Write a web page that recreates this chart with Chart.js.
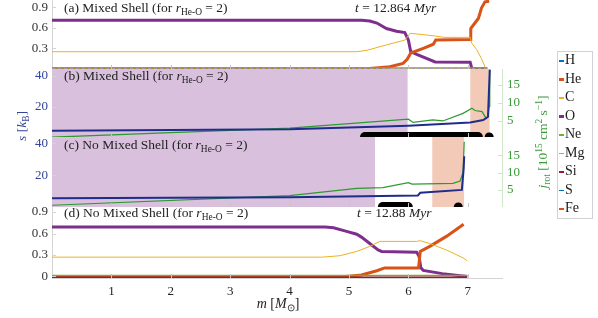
<!DOCTYPE html>
<html>
<head>
<meta charset="utf-8">
<script src="https://cdn.jsdelivr.net/npm/chart.js@4"></script>
<style>
  body { margin: 0; background: #fff; }
  #wrap { position: relative; width: 598px; height: 318px; overflow: hidden; font-family: "Liberation Serif", serif; color: #222; }
  canvas { position: absolute; left: 0; }
  .lab { position: absolute; white-space: nowrap; font-size: 13.5px; line-height: 14px; transform: translateY(-50%); }
  .rot { position: absolute; white-space: nowrap; line-height: 14px; transform: translate(-50%, -50%) rotate(-90deg); }
  sub { font-size: 70%; vertical-align: -0.3em; line-height: 0; }
  sup { font-size: 70%; vertical-align: 0.5em; line-height: 0; }
  #legend { position: absolute; left: 557px; top: 51px; width: 34px; height: 166px; border: 1px solid #d2d2d2; background: #fff; }
  #legend div { position: absolute; left: 1px; font-size: 14px; line-height: 14px; transform: translateY(-50%); white-space: nowrap; }
  #legend span { display: inline-block; width: 5px; vertical-align: middle; margin-right: 1px; }
</style>
</head>
<body>
<div id="wrap">
  <canvas id="ca" width="598" height="69" style="top:0px"></canvas>
  <canvas id="cb" width="598" height="68" style="top:69px"></canvas>
  <canvas id="cc" width="598" height="70" style="top:137px"></canvas>
  <canvas id="cd" width="598" height="118" style="top:200px"></canvas>

  <div class="lab" style="left:64px;top:7.5px">(a) Mixed Shell (for <i>r</i><sub>He-O</sub> = 2)</div>
  <div class="lab" style="left:355px;top:7.5px"><i>t</i> = 12.864 <i>Myr</i></div>
  <div class="lab" style="left:64px;top:76px">(b) Mixed Shell (for <i>r</i><sub>He-O</sub> = 2)</div>
  <div class="lab" style="left:64px;top:145px">(c) No Mixed Shell (for <i>r</i><sub>He-O</sub> = 2)</div>
  <div class="lab" style="left:64px;top:213px">(d) No Mixed Shell (for <i>r</i><sub>He-O</sub> = 2)</div>
  <div class="lab" style="left:357px;top:213px"><i>t</i> = 12.88 <i>Myr</i></div>

  <div class="rot" style="left:22px;top:126px;font-size:13.5px;color:#34449a"><i>s</i> [<i>k</i><sub>B</sub>]</div>
  <div class="rot" style="left:543px;top:142px;font-size:13.5px;color:#3a9a3a"><i>j</i><sub>rot</sub> [10<sup>15</sup> cm<sup>2</sup> s<sup>−1</sup>]</div>
  <div class="lab" style="left:278px;top:304px;font-size:14px;transform:translate(-50%,-50%)"><i>m</i> [<i>M</i><sub>⊙</sub>]</div>

  <div id="legend"></div>
</div>

<script>
// legend entries
const species = ['H', 'He', 'C', 'O', 'Ne', 'Mg', 'Si', 'S', 'Fe'];
const speciesColor = ['#0072BD', '#D95319', '#EDB120', '#7E2F8E', '#77AC30', '#4DBEEE', '#A2142F', '#0072BD', '#D95319'];

// (a) mixed shell, mass fractions at t = 12.864 Myr
const mA_O  = [0, 5.21, 5.35, 5.47, 5.63, 5.80, 5.94, 6.00, 6.04, 6.14, 6.45, 7.04, 7.07, 7.33];
const xA_O  = [0.71, 0.71, 0.70, 0.67, 0.59, 0.55, 0.53, 0.42, 0.25, 0.21, 0.10, 0.095, 0.0, 0.0];
const mA_He = [0, 5.0, 5.35, 5.69, 5.91, 5.98, 6.04, 6.25, 6.42, 6.46, 7.04, 7.05, 7.12, 7.18, 7.23, 7.29, 7.36];
const xA_He = [0, 0, 0.005, 0.03, 0.08, 0.14, 0.23, 0.30, 0.36, 0.42, 0.43, 0.59, 0.67, 0.74, 0.89, 0.98, 0.99];
const mA_C  = [0, 5.13, 5.30, 5.63, 5.94, 6.03, 6.25, 6.45, 6.60, 7.04, 7.07, 7.15, 7.23, 7.29, 7.32];
const xA_C  = [0.25, 0.25, 0.27, 0.35, 0.42, 0.52, 0.50, 0.48, 0.46, 0.46, 0.37, 0.28, 0.15, 0.03, 0];
const mA_minor = [0, 7.32];
const xA_Ne = [0.012, 0.012];
const xA_Mg = [0.005, 0.005];
const xA_Si = [0.002, 0.002];

// (b) mixed shell, entropy and specific angular momentum
const mB_s = [0, 4.0, 6.0, 7.04, 7.26, 7.34, 7.37];
const sB   = [4.7, 5.6, 7.9, 9.9, 11.6, 13.7, 44];
const mB_j = [0, 4.0, 6.0, 6.08, 6.41, 6.58, 6.92, 7.07, 7.12, 7.24, 7.31, 7.34, 7.36, 7.37];
const jB   = [0.5, 3.0, 5.5, 4.6, 5.3, 5.0, 7.1, 8.5, 7.9, 7.6, 5.7, 6.2, 9.0, 19.2];
const shellB_O  = [0, 5.99];
const shellB_He = [7.04, 7.37];
const convB = [5.27, 7.17];
const convB_dot = 7.36;

// (c) no mixed shell
const mC_s = [0, 4.0, 6.16, 6.20, 6.90, 6.93, 6.94];
const sC   = [5.8, 6.4, 7.5, 9.2, 11.0, 24, 32];
const mC_j = [0, 4.0, 5.13, 5.57, 6.0, 6.06, 6.75, 6.87, 6.92, 6.94];
const jC   = [0.6, 3.4, 5.5, 5.7, 7.1, 6.7, 6.9, 7.6, 10.1, 18.9];
const shellC_O  = [0, 5.44];
const shellC_He = [6.40, 6.94];
const convC = [5.57, 5.99];
const convC_dot = 6.84;

// (d) no mixed shell, mass fractions at t = 12.88 Myr
const mD_O  = [0, 4.60, 4.74, 4.96, 5.13, 5.21, 5.35, 5.49, 5.55, 6.14, 6.18, 6.21, 6.25, 6.57, 6.99];
const xD_O  = [0.69, 0.69, 0.68, 0.63, 0.59, 0.55, 0.46, 0.37, 0.35, 0.34, 0.28, 0.12, 0.085, 0.04, 0.0];
const mD_He = [0, 4.80, 5.0, 5.21, 5.47, 5.60, 6.17, 6.18, 6.20, 6.36, 6.64, 6.93];
const xD_He = [-0.008, -0.008, 0.005, 0.02, 0.08, 0.12, 0.12, 0.19, 0.35, 0.42, 0.56, 0.73];
const mD_C  = [0, 4.55, 4.85, 5.13, 5.35, 5.52, 6.14, 6.20, 6.36, 6.64, 6.92, 6.99];
const xD_C  = [0.27, 0.27, 0.29, 0.35, 0.42, 0.49, 0.49, 0.50, 0.46, 0.37, 0.26, 0.22];
const mD_minor = [0, 6.99];
const xD_Ne = [0.015, 0.015];
const xD_Si = [-0.011, -0.011];

const mMax = 7.576;

Chart.defaults.font.family = '"Liberation Serif", serif';
Chart.defaults.font.size = 13;
Chart.defaults.color = '#333';

// little tick marks drawn inside the plot frame
const innerTicks = {
  id: 'innerTicks',
  afterDatasetsDraw(chart) {
    const ctx = chart.ctx, a = chart.chartArea;
    ctx.save();
    ctx.lineWidth = 1;
    Object.values(chart.scales).forEach(s => {
      const col = s.options.innerTick;
      if (!col) return;
      ctx.strokeStyle = col;
      ctx.beginPath();
      s.ticks.forEach(t => {
        if (s.isHorizontal()) {
          if (t.value === 0) return;
          const x = Math.round(s.getPixelForValue(t.value)) + 0.5;
          ctx.moveTo(x, a.bottom); ctx.lineTo(x, a.bottom - 4);
        } else {
          const y = Math.round(s.getPixelForValue(t.value)) + 0.5;
          if (s.position === 'right') { ctx.moveTo(a.right, y); ctx.lineTo(a.right - 4, y); }
          else { ctx.moveTo(a.left, y); ctx.lineTo(a.left + 4, y); }
        }
      });
      ctx.stroke();
    });
    ctx.restore();
  }
};

let pts = (ms, vs) => ms.map((m, i) => ({ x: m, y: vs[i] }));

let line = (ms, vs, color, width, extra) => Object.assign({
  data: pts(ms, vs), borderColor: color, borderWidth: width,
  pointRadius: 0, fill: false, tension: 0, order: 1
}, extra || {});

let band = (range, top, color, axis) => ({
  data: [{ x: range[0], y: top }, { x: range[1], y: top }], yAxisID: axis,
  borderWidth: 0, borderColor: 'rgba(0,0,0,0)', backgroundColor: color,
  fill: 'start', pointRadius: 0, order: 10
});

let conv = (range, y) => ({
  data: [{ x: range[0], y: y }, { x: range[1], y: y }], yAxisID: 'y',
  borderColor: '#000', borderWidth: 10, borderCapStyle: 'round', pointRadius: 0, order: 0
});

let dot = (m, y) => ({
  data: [{ x: m, y: y }], yAxisID: 'y', showLine: false,
  pointRadius: 4.5, pointBackgroundColor: '#000', pointBorderWidth: 0, order: 0
});

let xScale = (show) => ({
  type: 'linear', min: 0, max: mMax, display: show,
  ticks: { stepSize: 1, includeBounds: false, autoSkip: false, padding: 6, color: '#222', callback: v => v === 0 ? '' : v },
  grid: { display: false, drawTicks: false },
  border: { display: show, color: '#d4d4d4' },
  innerTick: '#c4c4c4',
  afterFit(s) { if (show) s.height = 40; s.paddingLeft = 0; s.paddingRight = 0; }
});

// lo/hi: range of tick values that get a label
let yScale = (pos, min, max, step, lo, hi, color, border) => ({
  type: 'linear', position: pos, min: min, max: max,
  ticks: { stepSize: step, includeBounds: false, autoSkip: false, padding: pos === 'right' ? 5 : 4, color: color },
  grid: { display: false, drawTicks: false },
  border: { color: border },
  innerTick: border,
  afterBuildTicks(s) { s.ticks = s.ticks.filter(t => t.value >= lo - 1e-9 && t.value <= hi + 1e-9); },
  afterFit(s) { s.width = pos === 'right' ? 96 : 52; s.paddingTop = 0; s.paddingBottom = 0; }
});

let panel = (id, datasets, scales, padding) => new Chart(document.getElementById(id), {
  type: 'line',
  data: { datasets: datasets },
  options: {
    responsive: false, animation: false, events: [],
    layout: { padding: padding, autoPadding: false },
    plugins: { legend: { display: false }, tooltip: { enabled: false } },
    scales: scales
  },
  plugins: [innerTicks]
});

// (a)
panel('ca', [
  line(mA_minor, xA_Si, '#c98a95', 1, { borderDash: [3, 3] }),
  line(mA_minor, xA_Mg, '#4DBEEE', 1, { borderDash: [3, 3] }),
  line(mA_minor, xA_Ne, '#77AC30', 1.5),
  line(mA_C, xA_C, '#EDB120', 1),
  line(mA_He, xA_He, '#D95319', 3),
  line(mA_O, xA_O, '#7E2F8E', 3)
], {
  x: xScale(false),
  y: yScale('left', -0.003, 1.007, 0.3, 0.3, 0.9, '#333', '#d4d4d4')
}, { left: 0, right: 96, top: 0, bottom: 0 });

// (b)
panel('cb', [
  conv(convB, 0.6),
  dot(convB_dot, 0.6),
  line(mB_s, sB, '#1f2c8c', 2, { yAxisID: 'y' }),
  line(mB_j, jB, '#2e9a2e', 1.2, { yAxisID: 'y2' }),
  band(shellB_O, 44.5, '#d9c1de', 'y'),
  band(shellB_He, 44.5, '#f3c9b8', 'y')
], {
  x: xScale(false),
  y: yScale('left', 0.6, 44.5, 20, 20, 40, '#34449a', '#d4d4d4'),
  y2: yScale('right', 0.55, 19.4, 5, 5, 15, '#3a9a3a', '#cfe6c8')
}, { left: 0, right: 0, top: 0, bottom: 0 });

// (c)
panel('cc', [
  conv(convC, 0.3),
  dot(convC_dot, 0.3),
  line(mC_s, sC, '#1f2c8c', 2, { yAxisID: 'y' }),
  line(mC_j, jC, '#2e9a2e', 1.2, { yAxisID: 'y2' }),
  band(shellC_O, 44.05, '#d9c1de', 'y'),
  band(shellC_He, 44.05, '#f3c9b8', 'y')
], {
  x: xScale(false),
  y: yScale('left', 0.3, 44.05, 20, 20, 40, '#34449a', '#d4d4d4'),
  y2: yScale('right', 0.1, 20.3, 5, 5, 15, '#3a9a3a', '#cfe6c8')
}, { left: 0, right: 0, top: 0, bottom: 0 });

// (d)
panel('cd', [
  line(mD_minor, xD_Si, '#A2142F', 1.5),
  line(mD_minor, xD_Ne, '#77AC30', 1.5),
  line(mD_C, xD_C, '#EDB120', 1),
  line(mD_He, xD_He, '#D95319', 3),
  line(mD_O, xD_O, '#7E2F8E', 3)
], {
  x: xScale(true),
  y: yScale('left', -0.021, 0.970, 0.3, 0, 0.9, '#333', '#d4d4d4')
}, { left: 0, right: 96, top: 7, bottom: 0 });

// legend
const leg = document.getElementById('legend');
species.forEach((name, i) => {
  const d = document.createElement('div');
  d.style.top = (8 + i * 18.55) + 'px';
  const thick = (name === 'He' || name === 'O') ? 3 : 1.5;
  d.innerHTML = '<span style="height:' + thick + 'px;background:' + speciesColor[i] + '"></span>' + name;
  leg.appendChild(d);
});
</script>
</body>
</html>
